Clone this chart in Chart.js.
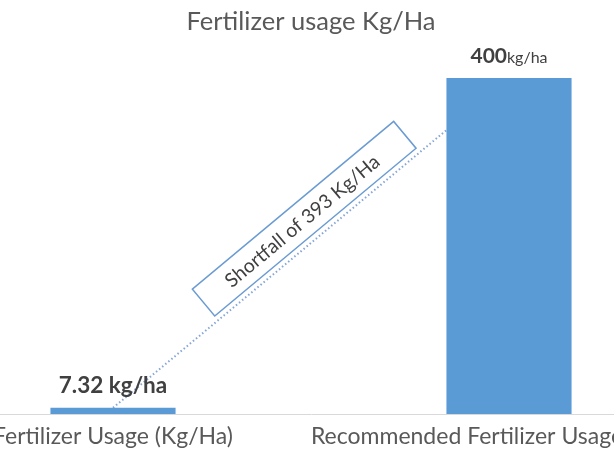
<!DOCTYPE HTML>
<html>
<head>
  <meta charset='utf-8'>
  <title>Fertilizer usage Kg/Ha</title>
  <script src='https://cdn.jsdelivr.net/npm/chart.js'></script>
  <style>
    body {
      margin: 0;
      padding: 0;
      background-color: #fff;
      overflow: hidden;
      width: 614px;
      height: 460px;
      position: relative;
    }
    .wrap {
      position: absolute; /* the picture is a crop of a wider chart */
      left: -85px;
      top: 0;
    }
  </style>
</head>
<body>
  <div class='wrap'><canvas id='fertChart' width='792' height='460'></canvas></div>
  <script>
    var categories = ['Fertilizer Usage (Kg/Ha)', 'Recommended Fertilizer Usage (Kg/Ha)'];
    var usage = [7.32, 400];
    var valueText = ['7.32', '400'];
    var unitText = [' kg/ha', 'kg/ha'];
    var shortfallText = 'Shortfall of 393 Kg/Ha';

    var FONT = 'Lato, sans-serif';

    // value labels above the bars
    var barLabels = {
      id: 'barLabels',
      afterDatasetsDraw: function(chart) {
        var ctx = chart.ctx;
        var meta = chart.getDatasetMeta(1);
        var valueFonts = ['bold 22.5px ' + FONT, 'bold 21px ' + FONT];
        var unitFonts = ['bold 22.5px ' + FONT, '16px ' + FONT];
        meta.data.forEach(function(bar, i) {
          ctx.save();
          ctx.font = valueFonts[i];
          var w1 = ctx.measureText(valueText[i]).width;
          ctx.font = unitFonts[i];
          var w2 = ctx.measureText(unitText[i]).width;
          var x = bar.x - (w1 + w2) / 2;
          var y = bar.y - 15;
          ctx.fillStyle = '#404040';
          ctx.textBaseline = 'alphabetic';
          ctx.textAlign = 'left';
          ctx.font = valueFonts[i];
          ctx.fillText(valueText[i], x, y);
          ctx.font = unitFonts[i];
          ctx.fillText(unitText[i], x + w1, y);
          ctx.restore();
        });
      }
    };

    // rotated callout along the dotted line
    var shortfallBox = {
      id: 'shortfallBox',
      afterDatasetsDraw: function(chart) {
        var ctx = chart.ctx;
        var pts = chart.getDatasetMeta(0).data;
        var p0 = pts[0], p1 = pts[1];
        var ang = Math.atan2(p1.y - p0.y, p1.x - p0.x);
        var t = 0.52;
        var cx = p0.x + (p1.x - p0.x) * t;
        var cy = p0.y + (p1.y - p0.y) * t;
        ctx.save();
        ctx.translate(cx, cy);
        ctx.rotate(ang);
        ctx.translate(0, -23);
        ctx.fillStyle = '#fff';
        ctx.fillRect(-131, -17.5, 262, 35);
        ctx.strokeStyle = '#6a9bd2';
        ctx.lineWidth = 1.5;
        ctx.strokeRect(-131, -17.5, 262, 35);
        ctx.fillStyle = '#404040';
        ctx.font = '19.5px ' + FONT;
        ctx.textAlign = 'center';
        ctx.textBaseline = 'middle';
        ctx.fillText(shortfallText, -3, 1);
        ctx.restore();
      }
    };

    var ctx = document.getElementById('fertChart').getContext('2d');
    var fertChart = new Chart(ctx, {
      type: 'bar',
      data: {
        labels: categories,
        datasets: [{
          type: 'line',
          data: usage,
          borderColor: '#85a6d6',
          borderWidth: 2,
          borderDash: [1.5, 2.5],
          pointRadius: 0,
          fill: false,
          order: 2
        }, {
          type: 'bar',
          data: usage,
          backgroundColor: '#5b9bd5',
          barPercentage: 0.316,
          categoryPercentage: 1,
          order: 1
        }]
      },
      options: {
        responsive: false,
        animation: false,
        layout: { padding: 0 },
        plugins: {
          legend: { display: false },
          tooltip: { enabled: false },
          title: {
            display: true,
            text: 'Fertilizer usage Kg/Ha',
            color: '#595959',
            font: { family: FONT, size: 25.5, weight: 'normal' },
            padding: { top: 6.7, bottom: 40.7 }
          }
        },
        scales: {
          x: {
            grid: { display: false, drawTicks: false },
            border: { display: true, color: '#d9d9d9', width: 1 },
            ticks: {
              color: '#595959',
              font: { family: FONT, size: 23 },
              padding: 9,
              maxRotation: 0,
              autoSkip: false
            },
            afterFit: function(scale) {
              scale.height = 46;
              scale.paddingLeft = 0;
              scale.paddingRight = 0;
            }
          },
          y: {
            display: false,
            min: 0,
            max: 400
          }
        }
      },
      plugins: [barLabels, shortfallBox]
    });
  </script>
</body>
</html>
